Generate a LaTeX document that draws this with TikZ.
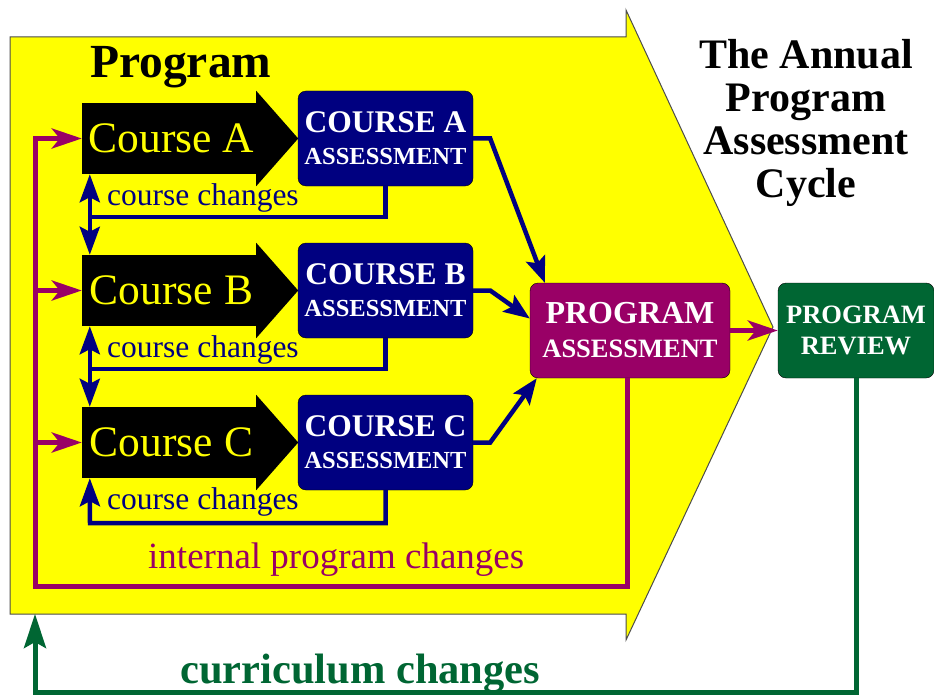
\documentclass[tikz,border=0pt]{standalone}
\usepackage{fontspec}
\setmainfont{Liberation Serif}
\usetikzlibrary{arrows.meta}
\usetikzlibrary{positioning}
\definecolor{banana}{RGB}{255,255,0}
\definecolor{crsblue}{RGB}{0,0,128}
\definecolor{plum}{RGB}{153,0,102}
\definecolor{pine}{RGB}{0,102,51}
\tikzset{x=1pt, y=-1pt,
course/.style={ % black shaft of each course arrow
fill=black,
minimum width=174pt, minimum height=71pt,
inner sep=0pt,
text=banana,
font=\fontsize{43.5}{44}\selectfont},
crsasm/.style={ % course assessment boxes
draw=black, fill=crsblue, rounded corners=8pt,
minimum width=175pt, minimum height=95pt,
inner sep=0pt, align=center, text=white,
font=\bfseries\fontsize{31.5}{32}\selectfont},
bigbox/.style={ % program boxes
draw=black, rounded corners=8pt,
minimum height=95pt,
inner sep=0pt, align=center, text=white},
crsline/.style={draw=crsblue, line width=4.5pt,
-{Stealth[length=26pt,width=20pt,inset=5pt]}},
chgline/.style={draw=crsblue, line width=4.5pt},
chgtip/.tip={Stealth[length=28pt,width=20pt,inset=5pt]},
intline/.style={draw=plum, line width=5pt,
-{Stealth[length=30pt,width=20pt,inset=8pt]}},
curline/.style={draw=pine, line width=5pt,
-{Stealth[length=34pt,width=22pt,inset=6pt]}},
lbl/.style={inner sep=0pt, anchor=base west}}

\begin{document}
\begin{tikzpicture}
\useasboundingbox (0,0) rectangle (934,698);
% the big yellow arrow
\filldraw[fill=banana, draw=black!70, line width=1pt] (10,37) -- (626,37) -- (626,10) -- (773,327) -- (626,640) -- (626,614) -- (10,614) -- cycle;
\node[lbl, font=\bfseries\fontsize{47.5}{47}\selectfont] (prog) at (90,78) {Program};
\node[inner sep=0pt, anchor=north, align=center, font=\bfseries\fontsize{42}{43}\selectfont] (cycle) at (806,39) {The Annual\\Program\\Assessment\\Cycle};

% courses and their assessments
\foreach \c/\yy in {A/138.5,B/290.5,C/442.5}{
\node[course] (crs\c) at (169,\yy) {\hspace{5pt}Course \c};
\fill (crs\c.north east) -- ++(0,-12) -- ([xshift=42pt]crs\c.east) -- ([yshift=-12pt]crs\c.south east) -- (crs\c.south east) -- cycle;
\node[crsasm] (asm\c) at (385.5,\yy) {COURSE \c\\{\fontsize{24.5}{32}\selectfont ASSESSMENT}};
}

\node[bigbox, fill=plum, minimum width=200pt, font=\bfseries\fontsize{32}{34}\selectfont] (prgAsm) at (630,330.5) {PROGRAM\\{\fontsize{26.5}{34}\selectfont ASSESSMENT}};
\node[bigbox, fill=pine, minimum width=156pt, font=\bfseries\fontsize{26.5}{31}\selectfont] (prgRev) at (856,330.5) {PROGRAM\\REVIEW};

% assessments feed the program assessment
\draw[crsline] (asmA.east) -- ++(17,0) -- ([xshift=15pt]prgAsm.north west);
\draw[crsline] (asmB.east) -- ++(17,0) -- ([yshift=12pt]prgAsm.west);
\draw[crsline] (asmC.east) -- ++(17,0) -- ([xshift=7pt]prgAsm.south west);

% course changes
\coordinate (chgA) at (90,217);
\coordinate (chgB) at (90,369);
\coordinate (chgC) at (90,523);
\draw[chgline] (asmA.south) |- (chgA);
\draw[chgline] (asmB.south) |- (chgB);
\draw[chgline, chgtip-chgtip] ([xshift=8pt]crsA.south west) -- ([xshift=8pt]crsB.north west);
\draw[chgline, chgtip-chgtip] ([xshift=8pt]crsB.south west) -- ([xshift=8pt]crsC.north west);
\draw[chgline, -chgtip] (asmC.south) |- (chgC) -- ([xshift=8pt]crsC.south west);
\foreach \c/\yy in {A/205,B/357,C/509}
\node[lbl, text=crsblue, font=\fontsize{31.5}{30}\selectfont] (lbl\c) at (107,\yy) {course changes};

% internal program changes
\coordinate (intBL) at (35,586);
\draw[intline] ([xshift=-3pt]prgAsm.south) |- (intBL) |- (crsA.west);
\draw[intline] (intBL |- crsB.west) -- (crsB.west);
\draw[intline] (intBL |- crsC.west) -- (crsC.west);
\draw[intline] (prgAsm.east) -- (prgRev.west);
\node[lbl, text=plum, font=\fontsize{37}{36}\selectfont] (intLbl) at (148,568) {internal program changes};

% curriculum changes
\coordinate (curBL) at (35,692);
\coordinate (yelBot) at (35,614);
\draw[curline] (prgRev.south) |- (curBL) -- (yelBot);
\node[lbl, text=pine, font=\bfseries\fontsize{42.5}{42}\selectfont] (curLbl) at (180,683) {curriculum changes};
\end{tikzpicture}
\end{document}
